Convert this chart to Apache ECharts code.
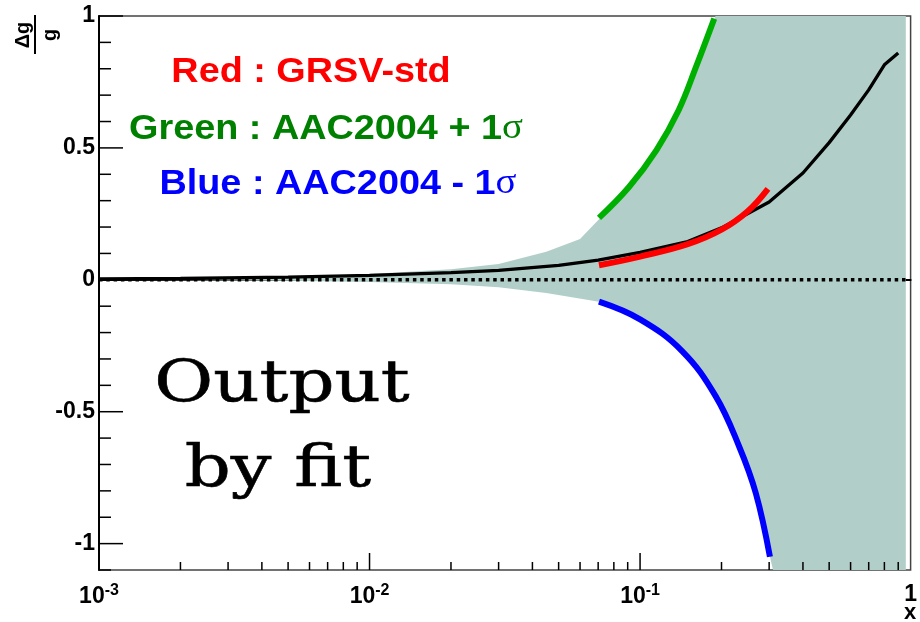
<!DOCTYPE html>
<html>
<head>
<meta charset="utf-8">
<script src="https://cdn.jsdelivr.net/npm/echarts@6/dist/echarts.min.js"></script>
<style>
html, body { margin: 0; padding: 0; background: #fff; }
#chart { width: 920px; height: 622px; }
</style>
</head>
<body>
<div id="chart"></div>
<script>
// central fit (black), x and delta g / g
var fitCurve = [[0.001, 0.003], [0.002, 0.005], [0.005, 0.01], [0.01, 0.017], [0.02, 0.027],
  [0.03, 0.036], [0.05, 0.055], [0.07, 0.075], [0.1, 0.104], [0.15, 0.145], [0.2, 0.197],
  [0.3, 0.295], [0.4, 0.405], [0.5, 0.52], [0.6, 0.625], [0.7, 0.72], [0.8, 0.815], [0.9, 0.86]];
// GRSV-std (red)
var grsv = [[0.0705, 0.055], [0.1, 0.088], [0.15, 0.135], [0.2, 0.19], [0.25, 0.26], [0.297, 0.345]];
// AAC2004 + 1 sigma (green)
var aacPlus = [[0.0705, 0.235], [0.091, 0.352], [0.115, 0.492], [0.139, 0.644], [0.161, 0.807], [0.188, 0.99]];
// AAC2004 - 1 sigma (blue)
var aacMinus = [[0.0705, -0.083], [0.1, -0.15], [0.143, -0.27], [0.19, -0.44], [0.232, -0.63], [0.268, -0.81], [0.302, -1.05]];
// error band of the fit
var bandUpper = [[0.001, 0.004], [0.005, 0.012], [0.01, 0.022], [0.02, 0.04], [0.03, 0.06], [0.045, 0.106],
  [0.06, 0.155], [0.0705, 0.23], [0.091, 0.352], [0.115, 0.492], [0.139, 0.644], [0.161, 0.807],
  [0.19, 1.0], [0.96, 1.0]];
var bandLower = [[0.001, -0.001], [0.005, -0.004], [0.01, -0.008], [0.02, -0.017], [0.03, -0.028],
  [0.045, -0.05], [0.0705, -0.083], [0.1, -0.15], [0.143, -0.27], [0.19, -0.44], [0.232, -0.63],
  [0.268, -0.81], [0.302, -1.05], [0.31, -1.1], [0.96, -1.1]];
var zeroLine = [[0.001, 0], [0.96, 0]];

// ticks
var xMajorTicks = [0.01, 0.1];
var xMinorTicks = [0.002, 0.003, 0.004, 0.005, 0.006, 0.007, 0.008, 0.009,
  0.02, 0.03, 0.04, 0.05, 0.06, 0.07, 0.08, 0.09,
  0.2, 0.3, 0.4, 0.5, 0.6, 0.7, 0.8, 0.9];
var yMajorTicks = [-1, -0.5, 0, 0.5, 1];
var yMinorTicks = [-1.1, -0.9, -0.8, -0.7, -0.6, -0.4, -0.3, -0.2, -0.1,
  0.1, 0.2, 0.3, 0.4, 0.6, 0.7, 0.8, 0.9];

var X_MIN = 0.001, X_MAX = 1, Y_MIN = -1.1, Y_MAX = 1;
var sans = '"Liberation Sans", Arial, sans-serif';

function tickSeries(values, onX, len) {
  return {
    type: 'custom',
    silent: true,
    z: 10,
    data: values.map(function (v) { return onX ? [v, Y_MIN] : [X_MIN, v]; }),
    renderItem: function (params, api) {
      var p = api.coord([api.value(0), api.value(1)]);
      return {
        type: 'line',
        shape: onX ? { x1: p[0], y1: p[1], x2: p[0], y2: p[1] - len }
                   : { x1: p[0], y1: p[1], x2: p[0] + len, y2: p[1] },
        style: { stroke: '#000', lineWidth: 1.5 }
      };
    }
  };
}

var chart = echarts.init(document.getElementById('chart'));
chart.setOption({
  animation: false,
  backgroundColor: '#fff',
  grid: { left: 99, right: 7, top: 16, bottom: 52, show: true, borderColor: '#444', borderWidth: 1.5 },
  xAxis: {
    type: 'log', logBase: 10, min: X_MIN, max: X_MAX,
    axisLine: { lineStyle: { color: '#000', width: 2 } },
    axisTick: { show: false },
    splitLine: { show: false },
    axisLabel: {
      margin: 13,
      showMinLabel: true, showMaxLabel: true,
      formatter: function (v) {
        if (v >= 1) return '{b|1}';
        return '{b|10}{s|' + Math.round(Math.log10(v)) + '}';
      },
      rich: {
        b: { fontSize: 23, fontWeight: 'bold', fontFamily: sans, color: '#000' },
        s: { fontSize: 16, fontWeight: 'bold', fontFamily: sans, color: '#000', padding: [0, 0, 12, 0] }
      }
    }
  },
  yAxis: {
    type: 'value', min: Y_MIN, max: Y_MAX, interval: 0.1,
    axisLine: { lineStyle: { color: '#000', width: 2 } },
    axisTick: { show: false },
    splitLine: { show: false },
    axisLabel: {
      margin: 4,
      fontSize: 23, fontWeight: 'bold', fontFamily: sans, color: '#000',
      showMinLabel: true, showMaxLabel: true,
      formatter: function (v) {
        if (Math.abs(v * 2 - Math.round(v * 2)) > 1e-6) return '';
        return String(Math.round(v * 2) / 2);
      }
    }
  },
  series: [
    {
      type: 'custom',
      silent: true,
      z: 1,
      data: [[X_MIN, 0]],
      renderItem: function (params, api) {
        var pts = bandUpper.concat(bandLower.slice().reverse()).map(function (p) { return api.coord(p); });
        return { type: 'polygon', shape: { points: pts }, style: { fill: '#b1cfc8' } };
      }
    },
    {
      type: 'line', data: zeroLine, symbol: 'none', z: 3, silent: true,
      lineStyle: { color: '#000', width: 3.5, type: [3.5, 3.8] }
    },
    {
      type: 'line', data: fitCurve, symbol: 'none', z: 4, silent: true,
      lineStyle: { color: '#000', width: 3.3 }
    },
    {
      type: 'line', data: grsv, symbol: 'none', smooth: 0.4, z: 5, silent: true,
      lineStyle: { color: '#ff0000', width: 6 }
    },
    {
      type: 'line', data: aacPlus, symbol: 'none', smooth: 0.4, z: 5, silent: true,
      lineStyle: { color: '#00b000', width: 6 }
    },
    {
      type: 'line', data: aacMinus, symbol: 'none', smooth: 0.4, z: 5, silent: true,
      lineStyle: { color: '#0000ff', width: 6 }
    },
    tickSeries(xMajorTicks, true, 17),
    tickSeries(xMinorTicks, true, 8),
    tickSeries(yMajorTicks, false, 24),
    tickSeries(yMinorTicks, false, 12)
  ],
  graphic: [
    {
      type: 'text', x: 311, y: 72, scaleX: 1.08, z: 20,
      style: { text: 'Red : GRSV-std', font: 'bold 35px ' + sans, fill: '#ff0000', textAlign: 'center', textVerticalAlign: 'middle' }
    },
    {
      type: 'text', x: 326, y: 129, scaleX: 1.08, z: 20,
      style: {
        text: 'Green : AAC2004 + 1{s|σ}', font: 'bold 35px ' + sans, fill: '#008000', textAlign: 'center', textVerticalAlign: 'middle',
        rich: { s: { fontSize: 36, fontWeight: 'normal', fontFamily: '"Liberation Serif", serif', fill: '#008000', color: '#008000' } }
      }
    },
    {
      type: 'text', x: 338, y: 184, scaleX: 1.08, z: 20,
      style: {
        text: 'Blue : AAC2004 - 1{s|σ}', font: 'bold 35px ' + sans, fill: '#0000ff', textAlign: 'center', textVerticalAlign: 'middle',
        rich: { s: { fontSize: 36, fontWeight: 'normal', fontFamily: '"Liberation Serif", serif', fill: '#0000ff', color: '#0000ff' } }
      }
    },
    {
      type: 'text', x: 282, y: 415, scaleX: 1.24, z: 20,
      style: { text: 'Output', font: '58px "DejaVu Serif", serif', fill: '#000', stroke: '#000', lineWidth: 0.6, textAlign: 'center', textVerticalAlign: 'bottom' }
    },
    {
      type: 'text', x: 278, y: 500, scaleX: 1.24, z: 20,
      style: { text: 'by fit', font: '58px "DejaVu Serif", serif', fill: '#000', stroke: '#000', lineWidth: 0.6, textAlign: 'center', textVerticalAlign: 'bottom' }
    },
    {
      type: 'text', x: 23, y: 35, rotation: Math.PI / 2, z: 20,
      style: { text: 'Δg', font: 'bold 20px ' + sans, fill: '#000', textAlign: 'center', textVerticalAlign: 'middle' }
    },
    {
      type: 'line', z: 20,
      shape: { x1: 35, y1: 15, x2: 35, y2: 54 },
      style: { stroke: '#000', lineWidth: 2 }
    },
    {
      type: 'text', x: 50, y: 35, rotation: Math.PI / 2, z: 20,
      style: { text: 'g', font: 'bold 20px ' + sans, fill: '#000', textAlign: 'center', textVerticalAlign: 'middle' }
    },
    {
      type: 'text', x: 910, y: 613, z: 20,
      style: { text: 'x', font: 'bold 22px ' + sans, fill: '#000', textAlign: 'center', textVerticalAlign: 'middle' }
    }
  ]
});
</script>
</body>
</html>
